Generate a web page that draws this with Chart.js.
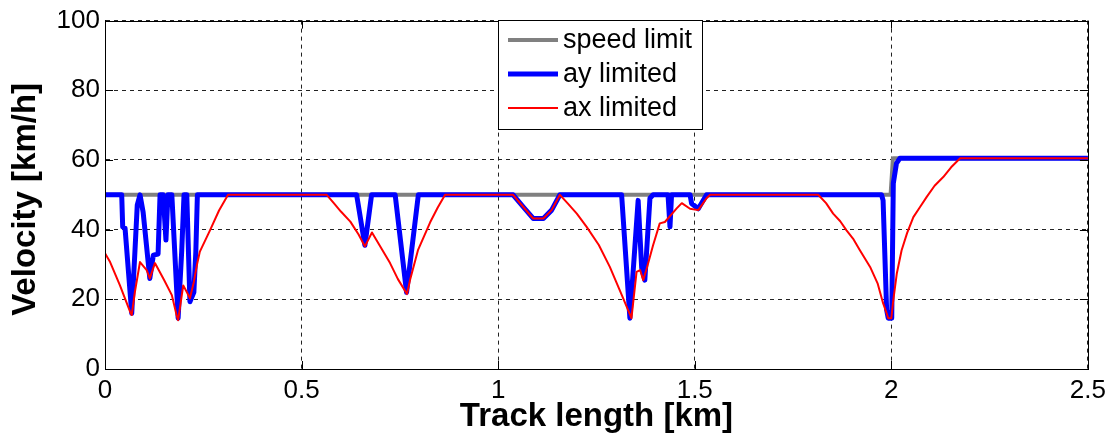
<!DOCTYPE html>
<html>
<head>
<meta charset="utf-8">
<script src="https://cdn.jsdelivr.net/npm/chart.js@4/dist/chart.umd.min.js"></script>
<style>
  html, body { margin: 0; padding: 0; background: #fff; }
  #wrap { width: 1112px; height: 439px; position: relative; }
</style>
</head>
<body>
<div id="wrap"><canvas id="velChart"></canvas></div>
<script>
// Speed limit along the track
const limitKm  = [0, 1.998, 2.004, 2.5];
const limitKmh = [50, 50, 60.5, 60.5];

// Lateral-acceleration limited profile
const ayKm  = [0, 0.0425, 0.045, 0.051, 0.068, 0.076, 0.082, 0.089, 0.097, 0.114,
               0.123, 0.135, 0.140, 0.148, 0.155, 0.160, 0.170, 0.186, 0.195, 0.201,
               0.208, 0.216, 0.226, 0.231, 0.235, 0.640, 0.661, 0.678, 0.738, 0.767,
               0.797, 1.038, 1.064, 1.089, 1.115, 1.136, 1.157, 1.314, 1.335, 1.356,
               1.365, 1.373, 1.386, 1.394, 1.432, 1.437, 1.441, 1.488, 1.492, 1.509,
               1.530, 1.975, 1.979, 1.988, 1.992, 2.001, 2.005, 2.013, 2.022, 2.5];
const ayKmh = [50, 50, 40.8, 40.4, 16, 33.5, 47, 50, 45, 26,
               32.7, 33, 50, 50, 37, 50, 50, 14.6, 33.6, 50,
               50, 19.3, 22, 33.6, 50, 50, 35.5, 50, 50, 22,
               50, 50, 46.5, 43.2, 43.2, 45.6, 50, 50, 14.6, 48.4,
               29, 25.5, 49, 50, 50, 40.8, 50, 50, 47.5, 46,
               50, 50, 48.4, 17, 14.6, 14.6, 53.3, 59, 60.5, 60.5];

// Longitudinal-acceleration limited profile
const axKm  = [0, 0.013, 0.038, 0.064, 0.068, 0.076, 0.089, 0.106, 0.114, 0.127,
               0.150, 0.170, 0.182, 0.186, 0.199, 0.208, 0.216, 0.226, 0.234, 0.241,
               0.267, 0.290, 0.313, 0.564, 0.582, 0.600, 0.624, 0.645, 0.661, 0.679,
               0.699, 0.725, 0.745, 0.768, 0.776, 0.796, 0.827, 0.846, 0.865, 1.038,
               1.064, 1.089, 1.115, 1.136, 1.157, 1.178, 1.200, 1.225, 1.256, 1.284,
               1.318, 1.339, 1.352, 1.361, 1.369, 1.378, 1.394, 1.411, 1.424, 1.454,
               1.467, 1.488, 1.509, 1.530, 1.539, 1.814, 1.834, 1.852, 1.870, 1.886,
               1.904, 1.920, 1.946, 1.965, 1.979, 1.988, 1.992, 2.000, 2.005, 2.014,
               2.026, 2.040, 2.056, 2.073, 2.090, 2.110, 2.132, 2.152, 2.175, 2.5];
const axKmh = [33.2, 30.7, 24, 16.4, 15.5, 22.1, 30.7, 28.4, 26, 30.4,
               25.6, 21.2, 15.5, 14, 24, 22.1, 20.3, 25, 30, 33.6,
               39.8, 45.5, 50, 50, 47.6, 45.2, 42.3, 38.6, 35.2, 39.2,
               35.4, 30.4, 25.8, 21.5, 25.6, 34.1, 42.1, 46.3, 50, 50,
               46.5, 43.2, 43.2, 45.6, 50, 47.4, 44.6, 40.8, 35.6, 29.3,
               20.3, 14.6, 27.9, 28.4, 25.5, 28.9, 35.5, 41.8, 42.2, 46.1,
               47.6, 46, 45.6, 49, 50, 50, 47.6, 44.6, 42.4, 39.8,
               37.2, 34.1, 29.3, 24.6, 18.9, 16, 14.6, 14.6, 19.8, 27.5,
               34, 39, 43.6, 46.5, 49.4, 52.6, 55.1, 57.9, 60.5, 60.5];

const xTicksStep = 0.5;
const yTicksStep = 20;

const toPoints = (xs, ys) => xs.map((x, i) => ({ x: x, y: ys[i] }));

const FONT = "'Liberation Sans', Arial, sans-serif";

const series = [
    { label: 'speed limit', color: '#808080', width: 4, order: 3, data: toPoints(limitKm, limitKmh) },
    { label: 'ay limited',  color: '#0000ff', width: 5, order: 2, data: toPoints(ayKm, ayKmh) },
    { label: 'ax limited',  color: '#ff0000', width: 2, order: 1, data: toPoints(axKm, axKmh) }
];

// Axes box, inward tick marks and the boxed legend
const frameAndLegend = {
    id: 'frameAndLegend',
    afterDraw(chart) {
        const { ctx, chartArea: a, scales } = chart;
        ctx.save();
        ctx.strokeStyle = '#000';
        ctx.lineWidth = 1;
        ctx.setLineDash([]);

        const tl = 8;
        ctx.beginPath();
        scales.x.ticks.forEach(t => {
            const px = Math.round(scales.x.getPixelForValue(t.value)) + 0.5;
            ctx.moveTo(px, a.bottom); ctx.lineTo(px, a.bottom - tl);
            ctx.moveTo(px, a.top); ctx.lineTo(px, a.top + tl);
        });
        scales.y.ticks.forEach(t => {
            const py = Math.round(scales.y.getPixelForValue(t.value)) + 0.5;
            ctx.moveTo(a.left, py); ctx.lineTo(a.left + tl, py);
            ctx.moveTo(a.right, py); ctx.lineTo(a.right - tl, py);
        });
        ctx.stroke();
        ctx.strokeRect(Math.round(a.left) + 0.5, Math.round(a.top) + 0.5,
                       Math.round(a.right - a.left), Math.round(a.bottom - a.top));

        // legend
        const lx = 498.5, ly = 20.5, lw = 204, lh = 109;
        ctx.fillStyle = '#fff';
        ctx.fillRect(lx, ly, lw, lh);
        ctx.strokeRect(lx, ly, lw, lh);
        ctx.font = '27px ' + FONT;
        ctx.textBaseline = 'middle';
        ctx.textAlign = 'left';
        series.forEach((s, i) => {
            const y = 40 + i * 34;
            ctx.beginPath();
            ctx.strokeStyle = s.color;
            ctx.lineWidth = s.width;
            ctx.moveTo(508, y); ctx.lineTo(558, y);
            ctx.stroke();
            ctx.fillStyle = '#000';
            ctx.fillText(s.label, 563, y + 1);
        });
        ctx.restore();
    }
};

new Chart(document.getElementById('velChart'), {
    type: 'line',
    data: {
        datasets: series.map(s => ({
            label: s.label,
            data: s.data,
            borderColor: s.color,
            backgroundColor: s.color,
            borderWidth: s.width,
            borderJoinStyle: 'round',
            pointRadius: 0,
            tension: 0,
            fill: false,
            order: s.order
        }))
    },
    options: {
        responsive: true,
        maintainAspectRatio: false,
        animation: false,
        layout: { padding: { left: 0, right: 24, top: 20, bottom: 0 } },
        plugins: {
            legend: { display: false },
            tooltip: { enabled: false }
        },
        scales: {
            x: {
                type: 'linear',
                min: 0,
                max: 2.5,
                afterFit: scale => { scale.height = 70; },
                ticks: {
                    stepSize: xTicksStep,
                    color: '#000',
                    font: { family: FONT, size: 26 },
                    padding: 6,
                    maxRotation: 0,
                    autoSkip: false,
                    callback: v => String(Math.round(v * 10) / 10)
                },
                grid: { color: '#222', lineWidth: 1, drawTicks: false },
                border: { display: true, color: '#000', width: 1, dash: [4, 4] },
                title: {
                    display: true,
                    text: 'Track length [km]',
                    color: '#000',
                    font: { family: FONT, size: 33, weight: 'bold', lineHeight: 1.2 },
                    padding: { top: 0, bottom: 2 }
                }
            },
            y: {
                min: 0,
                max: 100,
                afterFit: scale => { scale.width = 105; },
                ticks: {
                    stepSize: yTicksStep,
                    color: '#000',
                    font: { family: FONT, size: 26 },
                    padding: 5
                },
                grid: { color: '#222', lineWidth: 1, drawTicks: false },
                border: { display: true, color: '#000', width: 1, dash: [4, 4] },
                title: {
                    display: true,
                    text: 'Velocity [km/h] ',
                    color: '#000',
                    font: { family: FONT, size: 33, weight: 'bold', lineHeight: 1.2 },
                    padding: { top: 6, bottom: 0 }
                }
            }
        }
    },
    plugins: [frameAndLegend]
});
</script>
</body>
</html>
